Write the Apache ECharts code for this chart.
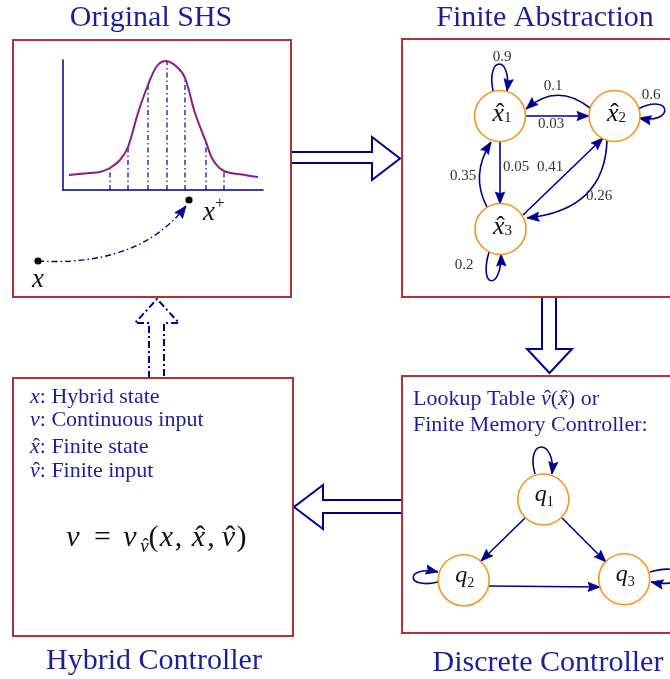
<!DOCTYPE html>
<html>
<head>
<meta charset="utf-8">
<script src="https://cdn.jsdelivr.net/npm/echarts@6/dist/echarts.min.js"></script>
<style>
html,body{margin:0;padding:0;background:#ffffff;}
#chart{width:670px;height:679px;}
</style>
</head>
<body>
<div id="chart"></div>
<script>
// ---------------- data ----------------
const panelTitles = ['Original SHS', 'Finite Abstraction', 'Hybrid Controller', 'Discrete Controller'];
// density of the stochastic hybrid system
const densityX = [6, 27, 37, 47, 57, 65, 75, 85, 94, 103, 114, 122, 132, 143, 150, 161, 182, 195];
const densityY = [15, 17, 18, 22, 30, 43, 77, 105, 124, 129, 123, 112, 77, 48, 30, 19, 15, 13];
// partition lines (dash-dot) under the density
const partitionX = [47, 65, 85, 104, 122, 143, 161];
const partitionY = [22, 43, 105, 129, 112, 48, 19];
// finite abstraction: states x̂_i and transition probabilities
const abstractStates = ['1', '2', '3'];
const transFrom = [0, 1, 1, 0, 0, 2, 2, 1, 2];
const transTo   = [0, 0, 1, 1, 2, 0, 1, 2, 2];
const transProb = ['0.9', '0.1', '0.6', '0.03', '0.05', '0.35', '0.41', '0.26', '0.2'];
// discrete controller: memory states q_i and transitions
const memoryStates = ['1', '2', '3'];
const memFrom = [0, 0, 0, 1, 1, 2];
const memTo   = [0, 1, 2, 1, 2, 2];
// hybrid controller legend
const legendSymbols = ['x', '\u03bd', 'x', '\u03bd'];
const legendHats = [false, false, true, true];
const legendTexts = ['Hybrid state', 'Continuous input', 'Finite state', 'Finite input'];
const trajectoryLabels = ['x', 'x', '+'];

// ---------------- layout (pixels) ----------------
const L = {
  boxes: [[13, 40, 278, 257], [402, 39, 300, 258], [13, 378, 280, 258], [402, 376, 300, 257]],
  titles: [[151, 18.5], [545, 18.5], [154, 661.5], [548, 663.5]],
  r: 25.5,
  absNodes: [[500, 116], [614.5, 116], [500.5, 229]],
  memNodes: [[543.3, 499.5], [463.7, 580.3], [624.2, 579.2]],
  absEdges: [
    [[493, 91], [486, 55], [512, 55], [507, 91]],
    [[590, 108], [557, 82], [526, 109]],
    [[638, 109], [672, 92], [675, 125], [639, 118]],
    [[525, 116], [589, 116]],
    [[500, 141], [500, 204]],
    [[487, 207], [470, 175], [491, 142]],
    [[523, 215], [603, 138]],
    [[607, 140], [605, 210], [527, 218]],
    [[489, 252], [478, 290], [502, 290], [501, 254]]
  ],
  absLabels: [[502, 57], [553, 86], [651, 95], [551, 124], [516, 167], [463, 176], [550, 167], [599, 196], [464, 265]],
  memEdges: [
    [[535, 474], [525, 438], [556, 438], [552, 474]],
    [[525, 518], [481, 561]],
    [[562, 518], [606, 562]],
    [[438, 582], [405, 590], [405, 565], [438, 572]],
    [[489, 586], [600, 587]],
    [[650, 572], [690, 560], [690, 590], [651, 582]]
  ],
  traj: [[38, 261], [120, 266], [163, 236], [186, 206]],
  trajDots: [[38, 261], [189, 200]],
  bigArrows: [
    [[291, 152], [372, 152], [372, 137], [400, 158.5], [372, 180], [372, 163], [291, 163]],
    [[542, 297], [542, 349], [527, 349], [549.5, 373], [572, 349], [556, 349], [556, 297]],
    [[402, 500], [323, 500], [323, 485], [294, 507], [323, 529], [323, 513], [402, 513]],
    [[149, 378], [149, 323], [135, 323], [157, 299], [179, 323], [164, 323], [164, 378]]
  ],
  // centres of the glyphs of the control law  ν = ν_ν̂(x, x̂, ν̂)
  formulaY: 538.3,
  formulaX: [73, 102.5, 130, 144.5, 153.5, 166.5, 178.5, 198.5, 211, 228.5, 241.5]
};

// ---------------- styles ----------------
const NAVY = '#00008f';
const TXT = '#1e1e9c';
const RED = '#ad3333';
const ORANGE = '#f7941d';
const PURPLE = '#8c1a8a';
const SERIF = '"Liberation Serif","Times New Roman",serif';
const HAT = '\u02c6';

const mctx = document.createElement('canvas').getContext('2d');
function fnt(st, size) { return (st === 'i' ? 'italic ' : '') + size + 'px ' + SERIF; }
function tw(f, s) { mctx.font = f; return mctx.measureText(s).width; }
function txt(x, y, s, font, color, align) {
  return { type: 'text', x: x, y: y, z: 20, silent: true,
    style: { text: s, font: font, fill: color, align: align || 'left', verticalAlign: 'middle' } };
}
// pieces: [text, style, size, dy, hat]
function row(x, y, pieces, align, color) {
  const ws = pieces.map(p => tw(fnt(p[1], p[2]), p[0]));
  const total = ws.reduce((a, b) => a + b, 0);
  let cx = align === 'center' ? x - total / 2 : x;
  const out = [];
  pieces.forEach((p, k) => {
    const yy = y + (p[3] || 0);
    out.push(txt(cx, yy, p[0], fnt(p[1], p[2]), color));
    if (p[4]) out.push(txt(cx + ws[k] / 2 + 0.07 * p[2], yy, HAT, fnt('n', p[2]), color, 'center'));
    cx += ws[k];
  });
  return out;
}
// pieces placed by glyph centre: [text, style, size, dy, hat]
function placed(xs, y, pieces, color) {
  const out = [];
  pieces.forEach((p, k) => {
    const yy = y + (p[3] || 0);
    out.push(txt(xs[k], yy, p[0], fnt(p[1], p[2]), color, 'center'));
    if (p[4]) out.push(txt(xs[k] + 0.06 * p[2], yy, HAT, fnt('n', p[2]), color, 'center'));
  });
  return out;
}
function arrowHead(tip, from, len, hw, color) {
  const dx = tip[0] - from[0], dy = tip[1] - from[1];
  const d = Math.sqrt(dx * dx + dy * dy) || 1;
  const ux = dx / d, uy = dy / d, nx = -uy, ny = ux;
  const bx = tip[0] - ux * len, by = tip[1] - uy * len;
  return { type: 'polygon', shape: { points: [tip, [bx + nx * hw, by + ny * hw], [tip[0] - ux * len * 0.85, tip[1] - uy * len * 0.85], [bx - nx * hw, by - ny * hw]] },
           style: { fill: color, stroke: color, lineWidth: 0.8 } };
}
function pathEl(pts, style) {
  const n = pts.length;
  if (n === 2) return { type: 'line', shape: { x1: pts[0][0], y1: pts[0][1], x2: pts[1][0], y2: pts[1][1] }, style: style };
  if (n === 3) return { type: 'bezierCurve', shape: { x1: pts[0][0], y1: pts[0][1], cpx1: pts[1][0], cpy1: pts[1][1], x2: pts[2][0], y2: pts[2][1] }, style: style };
  return { type: 'bezierCurve', shape: { x1: pts[0][0], y1: pts[0][1], cpx1: pts[1][0], cpy1: pts[1][1], cpx2: pts[2][0], cpy2: pts[2][1], x2: pts[3][0], y2: pts[3][1] }, style: style };
}
function edgeGroup(api, geom) {
  const pts = geom.map(p => api.coord(p));
  const n = pts.length;
  return [
    pathEl(pts, { stroke: NAVY, lineWidth: 1.6, fill: null }),
    arrowHead(pts[n - 1], pts[n - 2], 12, 4.6, NAVY)
  ];
}

// ---------------- graphic (frames, big arrows, text) ----------------
const graphic = [];
L.bigArrows.forEach((pts, i) => {
  graphic.push({ type: 'polygon', z: 5, silent: true, shape: { points: pts },
    style: { fill: '#ffffff', stroke: NAVY, lineWidth: 2, lineDash: i === 3 ? [7, 3, 2, 3] : null, lineJoin: 'miter' } });
});
L.boxes.forEach(b => {
  graphic.push({ type: 'rect', z: 8, silent: true, shape: { x: b[0], y: b[1], width: b[2], height: b[3] },
    style: { fill: null, stroke: RED, lineWidth: 2 } });
});
panelTitles.forEach((t, i) => {
  graphic.push(txt(L.titles[i][0], L.titles[i][1], t, fnt('n', 30), TXT, 'center'));
});
const legendY = [397.5, 420.5, 447.5, 471.5];
legendSymbols.forEach((s, i) => {
  row(30, legendY[i], [[s, 'i', 22, 0, legendHats[i]], [': ' + legendTexts[i], 'n', 22]], 'left', TXT).forEach(e => graphic.push(e));
});
row(413, 399, [['Lookup Table ', 'n', 22], ['\u03bd', 'i', 22, 0, true], ['(', 'n', 22], ['x', 'i', 22, 0, true], [')', 'n', 22], [' or', 'n', 22]], 'left', TXT).forEach(e => graphic.push(e));
row(413, 425.7, [['Finite Memory Controller:', 'n', 22]], 'left', TXT).forEach(e => graphic.push(e));
placed(L.formulaX, L.formulaY, [
  ['\u03bd', 'i', 30], ['=', 'n', 30], ['\u03bd', 'i', 30], ['\u03bd', 'i', 19, 8.2, true], ['(', 'n', 30],
  ['x', 'i', 30], [',', 'n', 30], ['x', 'i', 30, 0, true], [',', 'n', 30], ['\u03bd', 'i', 30, 0, true], [')', 'n', 30]
], '#111111').forEach(e => graphic.push(e));

// ---------------- chart ----------------
const chart = echarts.init(document.getElementById('chart'), null, { renderer: 'canvas' });
const option = {
  animation: false,
  backgroundColor: '#ffffff',
  grid: [
    { left: 0, top: 0, width: 670, height: 679, show: false },
    { left: 63, top: 60, width: 200, height: 130, show: false }
  ],
  xAxis: [
    { type: 'value', gridIndex: 0, min: 0, max: 670, show: false },
    { type: 'value', gridIndex: 1, min: 0, max: 200,
      axisLine: { show: true, onZero: false, lineStyle: { color: NAVY, width: 1.5 } },
      axisTick: { show: false }, axisLabel: { show: false }, splitLine: { show: false } }
  ],
  yAxis: [
    { type: 'value', gridIndex: 0, min: 0, max: 679, inverse: true, show: false },
    { type: 'value', gridIndex: 1, min: 0, max: 130,
      axisLine: { show: true, onZero: false, lineStyle: { color: NAVY, width: 1.5 } },
      axisTick: { show: false }, axisLabel: { show: false }, splitLine: { show: false } }
  ],
  series: [
    {
      type: 'custom', name: 'partition', xAxisIndex: 1, yAxisIndex: 1, silent: true, z: 2,
      data: partitionX.map((x, i) => [x, partitionY[i]]),
      renderItem: function (params, api) {
        const p0 = api.coord([api.value(0), 0]);
        const p1 = api.coord([api.value(0), api.value(1)]);
        return { type: 'line', shape: { x1: p0[0], y1: p0[1], x2: p1[0], y2: p1[1] },
                 style: { stroke: NAVY, lineWidth: 1.2, lineDash: [5, 3, 1.5, 3] } };
      }
    },
    {
      type: 'line', name: 'density', xAxisIndex: 1, yAxisIndex: 1, silent: true, z: 3,
      data: densityX.map((x, i) => [x, densityY[i]]),
      smooth: 0.35, showSymbol: false, symbol: 'none',
      lineStyle: { color: PURPLE, width: 2 }
    },
    {
      type: 'custom', name: 'trajectory', xAxisIndex: 0, yAxisIndex: 0, silent: true, z: 4,
      data: [[0, 0]],
      renderItem: function (params, api) {
        const pts = L.traj.map(p => api.coord(p));
        const d = L.trajDots.map(p => api.coord(p));
        const ch = [
          pathEl(pts, { stroke: NAVY, lineWidth: 1.4, fill: null, lineDash: [6, 3, 1.5, 3] }),
          arrowHead(pts[3], pts[2], 12, 4.8, NAVY),
          { type: 'circle', shape: { cx: d[0][0], cy: d[0][1], r: 3.6 }, style: { fill: '#000' } },
          { type: 'circle', shape: { cx: d[1][0], cy: d[1][1], r: 3.6 }, style: { fill: '#000' } }
        ];
        row(d[0][0], d[0][1] + 19, [[trajectoryLabels[0], 'i', 27]], 'center', '#111').forEach(e => ch.push(e));
        row(d[1][0] + 14, d[1][1] + 13.2, [[trajectoryLabels[1], 'i', 27], [trajectoryLabels[2], 'n', 17, -9.8]], 'left', '#111').forEach(e => ch.push(e));
        return { type: 'group', children: ch };
      }
    },
    {
      type: 'custom', name: 'abstraction transitions', xAxisIndex: 0, yAxisIndex: 0, silent: true, z: 5,
      data: transProb.map((p, i) => [i, 0]),
      renderItem: function (params, api) {
        const i = params.dataIndex;
        const ch = edgeGroup(api, L.absEdges[i]);
        const lp = api.coord(L.absLabels[i]);
        ch.push(txt(lp[0], lp[1], transProb[i], fnt('n', 15), '#333', 'center'));
        return { type: 'group', children: ch };
      }
    },
    {
      type: 'custom', name: 'abstraction states', xAxisIndex: 0, yAxisIndex: 0, silent: true, z: 6,
      data: abstractStates.map((s, i) => [i, 0]),
      renderItem: function (params, api) {
        const i = params.dataIndex;
        const c = api.coord(L.absNodes[i]);
        const ch = [{ type: 'circle', shape: { cx: c[0], cy: c[1], r: L.r }, style: { fill: '#fff', stroke: ORANGE, lineWidth: 1.6 } }];
        row(c[0] + 2, c[1] - 2.2, [['x', 'i', 26, 0, true], [abstractStates[i], 'n', 15, 4.2]], 'center', '#111').forEach(e => ch.push(e));
        return { type: 'group', children: ch };
      }
    },
    {
      type: 'custom', name: 'controller transitions', xAxisIndex: 0, yAxisIndex: 0, silent: true, z: 5,
      data: memFrom.map((f, i) => [i, 0]),
      renderItem: function (params, api) {
        return { type: 'group', children: edgeGroup(api, L.memEdges[params.dataIndex]) };
      }
    },
    {
      type: 'custom', name: 'controller states', xAxisIndex: 0, yAxisIndex: 0, silent: true, z: 6,
      data: memoryStates.map((s, i) => [i, 0]),
      renderItem: function (params, api) {
        const i = params.dataIndex;
        const c = api.coord(L.memNodes[i]);
        const ch = [{ type: 'circle', shape: { cx: c[0], cy: c[1], r: L.r }, style: { fill: '#fff', stroke: ORANGE, lineWidth: 1.6 } }];
        row(c[0] + 1, c[1] - 4.5, [['q', 'i', 24], [memoryStates[i], 'n', 14, 7.6]], 'center', '#111').forEach(e => ch.push(e));
        return { type: 'group', children: ch };
      }
    }
  ],
  graphic: graphic
};
chart.setOption(option);
</script>
</body>
</html>
